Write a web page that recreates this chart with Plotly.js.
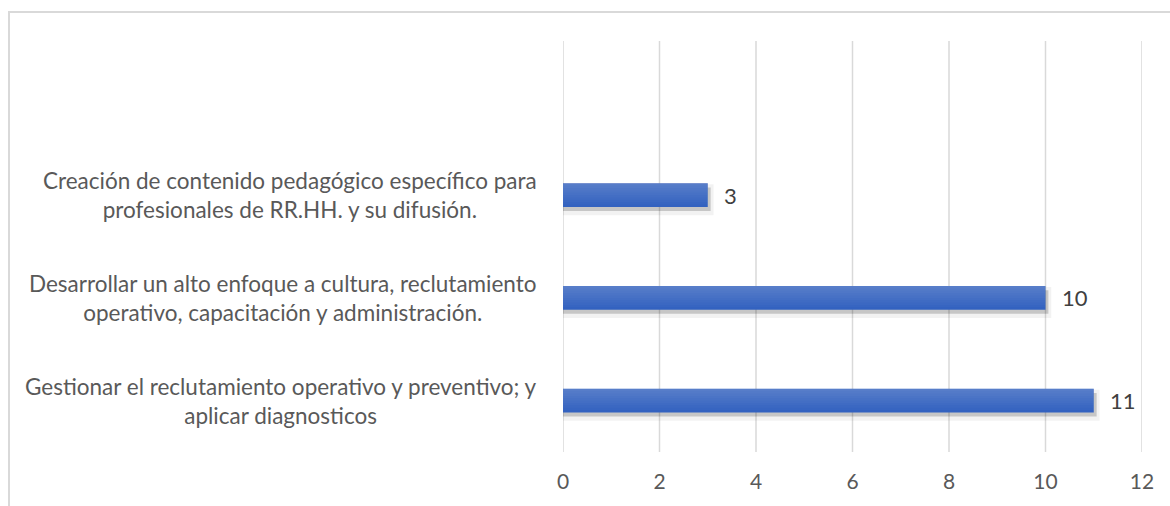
<!DOCTYPE html>
<html>
<head>
<meta charset="utf-8">
<script src="https://cdn.plot.ly/plotly-3.0.1.min.js"></script>
<style>
  html, body { margin: 0; padding: 0; background: #ffffff; }
  #wrap { position: relative; width: 1170px; height: 506px; overflow: hidden; }
  #chart { position: absolute; left: 0; top: 0; width: 1170px; height: 506px; }
  #frame { position: absolute; left: 8px; top: 11px; width: 1200px; height: 600px;
           border-left: 2px solid #d9d9d9; border-top: 2px solid #d9d9d9; pointer-events: none; }
</style>
</head>
<body>
<div id="wrap">
  <div id="chart"></div>
  <div id="frame"></div>
</div>
<script>
// Data (bottom to top)
const categories = [
  "Gestionar el reclutamiento operativo y preventivo; y<br>aplicar diagnosticos",
  "Desarrollar un alto enfoque a cultura, reclutamiento<br>operativo, capacitación y administración.",
  "Creación de contenido pedagógico específico para<br>profesionales de RR.HH. y su difusión."
];
const values = [11, 10, 3];
const xTickValues = [0, 2, 4, 6, 8, 10, 12];

const pos = categories.map((c, i) => i);
const barWidth = 0.23;
const FONT = "Lato, 'Liberation Sans', sans-serif";

const traces = [];
traces.push({
  type: 'bar', orientation: 'h', x: values.map(v => v + 0.12), y: pos,
  width: barWidth + 0.07, offset: -(barWidth + 0.07) / 2 - 0.045,
  marker: { color: 'rgba(0,0,0,0.05)', line: { width: 0 } },
  hoverinfo: 'skip', showlegend: false
});
traces.push({
  type: 'bar', orientation: 'h', x: values.map(v => v + 0.06), y: pos,
  width: barWidth, offset: -barWidth / 2 - 0.04,
  marker: { color: 'rgba(0,0,0,0.18)', line: { width: 0 } },
  hoverinfo: 'skip', showlegend: false
});
traces.push({
  type: 'bar', orientation: 'h', x: values, y: pos,
  width: barWidth, offset: -barWidth / 2,
  marker: { color: '#2f5fbf', line: { width: 0 } },
  hoverinfo: 'x', showlegend: false
});
// smooth vertical gradient: stacked translucent white bands anchored at the top
const N = 10;
for (let k = 0; k < N; k++) {
  const w = barWidth * (N - k) / N;
  traces.push({
    type: 'bar', orientation: 'h', x: values, y: pos,
    width: w, offset: barWidth / 2 - w,
    marker: { color: 'rgba(255,255,255,0.022)', line: { width: 0 } },
    hoverinfo: 'skip', showlegend: false
  });
}

const annotations = [];
categories.forEach((c, i) => {
  annotations.push({
    xref: 'paper', yref: 'y', x: 0, y: i, xanchor: 'right', yanchor: 'middle',
    xshift: -24, text: c, align: 'center', showarrow: false,
    font: { family: FONT, size: 22.5, color: '#595959' }
  });
  annotations.push({
    xref: 'x', yref: 'y', x: values[i], y: i, xanchor: 'left', yanchor: 'middle',
    xshift: 14, text: String(values[i]), showarrow: false,
    font: { family: FONT, size: 22, color: '#404040' }
  });
});

const shapes = xTickValues.map(v => ({
  type: 'line', xref: 'x', yref: 'paper', x0: v, x1: v, y0: 0, y1: 1,
  line: { color: '#d9d9d9', width: 1.5 }, layer: 'below'
}));

const layout = {
  width: 1170, height: 506,
  margin: { l: 563, r: 28, t: 41, b: 54 },
  paper_bgcolor: 'rgba(0,0,0,0)', plot_bgcolor: 'rgba(0,0,0,0)',
  barmode: 'overlay',
  showlegend: false,
  xaxis: {
    range: [0, 12], tickvals: xTickValues, ticktext: xTickValues.map(String),
    showgrid: false, zeroline: false, showline: false, ticks: '',
    ticklabelstandoff: 15,
    tickfont: { family: FONT, size: 21, color: '#595959' },
    fixedrange: true
  },
  yaxis: {
    range: [-0.5, 3.5], showgrid: false, zeroline: false, showline: false,
    showticklabels: false, ticks: '', fixedrange: true
  },
  shapes: shapes,
  annotations: annotations
};

Plotly.newPlot('chart', traces, layout, { displayModeBar: false, staticPlot: true });
</script>
</body>
</html>
